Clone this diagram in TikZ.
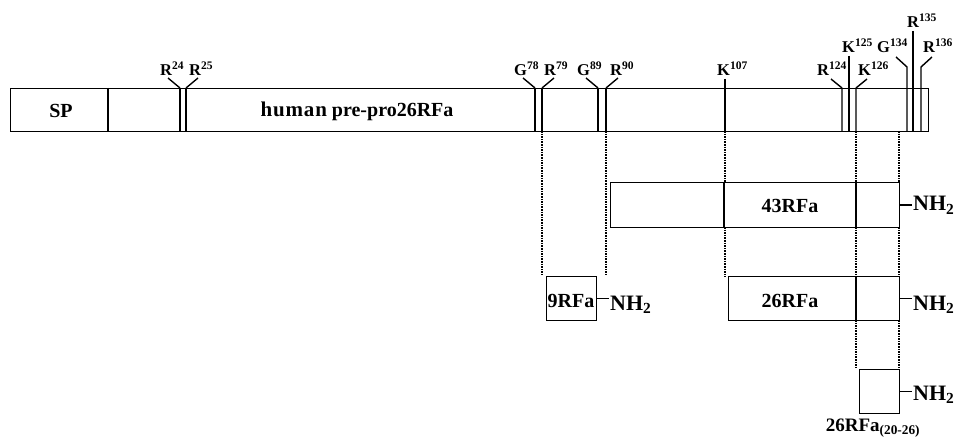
\documentclass[tikz,border=0pt]{standalone}
\usepackage{fontspec}
\setmainfont{Liberation Serif}
\begin{document}
\begin{tikzpicture}[x=1pt,y=-1pt,
  box/.style={draw, line width=1.4pt, inner sep=0pt, anchor=north west},
  ln/.style={line width=1.4pt},
  dotln/.style={line width=1.6pt, densely dotted},
  site/.style={font=\fontsize{16.5}{16.5}\selectfont\bfseries, inner sep=0pt, anchor=base west},
  lab/.style={font=\fontsize{20}{20}\selectfont\bfseries, inner sep=0pt, anchor=base},
  nh/.style={font=\fontsize{22}{22}\selectfont\bfseries, inner sep=0pt, anchor=base west}]
\useasboundingbox (0,0) rectangle (955,438);

% main precursor bar
\node[box, minimum width=918pt, minimum height=43pt] (bar) at (10,88) {};
\draw[ln] (108,88) -- (108,131);
\node[lab] (sp) at (61,118) {SP};
\node[lab] (human) at (357,117) {{\fontsize{21}{21}\selectfont\addfontfeature{LetterSpace=4}human} pre-pro26RFa};

% R24 R25
\draw[ln] (180,88) -- (180,131) (186,88) -- (186,131);
\draw[ln] (168,78) -- (180,88) (198,78) -- (186,88);
\node[site] (r24) at (160,76) {R\textsuperscript{24}};
\node[site] (r25) at (189,76) {R\textsuperscript{25}};

% G78 R79
\draw[ln] (535,88) -- (535,131) (542,88) -- (542,131);
\draw[ln] (523,78) -- (535,88) (554,78) -- (542,88);
\node[site] (g78) at (514,76) {G\textsuperscript{78}};
\node[site] (r79) at (544,76) {R\textsuperscript{79}};

% G89 R90
\draw[ln] (598,88) -- (598,131) (606,88) -- (606,131);
\draw[ln] (586,78) -- (598,88) (618,78) -- (606,88);
\node[site] (g89) at (577,76) {G\textsuperscript{89}};
\node[site] (r90) at (610,76) {R\textsuperscript{90}};

% K107
\draw[ln] (725,79) -- (725,131);
\node[site] (k107) at (717,76) {K\textsuperscript{107}};

% R124 K125 K126
\draw[ln] (842,88) -- (842,131) (831,79) -- (842,88);
\draw[ln] (849,56) -- (849,131);
\draw[ln] (856,88) -- (856,131) (867,79) -- (856,88);
\node[site] (r124) at (817,76) {R\textsuperscript{124}};
\node[site] (k125) at (842,53) {K\textsuperscript{125}};
\node[site] (k126) at (858,76) {K\textsuperscript{126}};

% G134 R135 R136
\draw[ln] (896,57) -- (907,67) -- (907,131);
\draw[ln] (913,31) -- (913,131);
\draw[ln] (932,57) -- (921,67) -- (921,131);
\node[site] (g134) at (877,53) {G\textsuperscript{134}};
\node[site] (r135) at (907,28) {R\textsuperscript{135}};
\node[site] (r136) at (923,53) {R\textsuperscript{136}};

% 43RFa
\node[box, minimum width=289pt, minimum height=45pt] (f43) at (610,182) {};
\draw[ln] (724,182) -- (724,227) (856,182) -- (856,227);
\node[lab] (t43) at (790,213) {43RFa};
\draw[ln] (f43.east) -- ++(12,0) coordinate (e43);
\node[nh] (nh43) at (913,211) {NH\textsubscript{2}};

% 9RFa
\node[box, minimum width=50pt, minimum height=44pt] (f9) at (546,276) {};
\node[lab] (t9) at (571,307) {9RFa};
\draw[ln] (f9.east) -- ++(12,0) coordinate (e9);
\node[nh] (nh9) at (610,310) {NH\textsubscript{2}};

% 26RFa
\node[box, minimum width=171pt, minimum height=44pt] (f26) at (728,276) {};
\draw[ln] (856,276) -- (856,320);
\node[lab] (t26) at (790,307) {26RFa};
\draw[ln] (f26.east) -- ++(12,0) coordinate (e26);
\node[nh] (nh26) at (913,310) {NH\textsubscript{2}};

% 26RFa(20-26)
\node[box, minimum width=40pt, minimum height=44pt] (f7) at (859,369) {};
\draw[ln] (f7.east) -- ++(12,0) coordinate (e7);
\node[nh] (nh7) at (913,400) {NH\textsubscript{2}};
\node[lab, font=\fontsize{19}{19}\selectfont\bfseries] (t7) at (873,431) {26RFa\textsubscript{(20-26)}};

% dotted guides
\draw[dotln] (542,131) -- (542,275);
\draw[dotln] (606,131) -- (606,275);
\draw[dotln] (725,131) -- (725,182) (725,227) -- (725,277);
\draw[dotln] (856,131) -- (856,182) (856,227) -- (856,276) (856,320) -- (856,369);
\draw[dotln] (899,131) -- (899,182) (899,227) -- (899,276) (899,320) -- (899,369);
\end{tikzpicture}
\end{document}
